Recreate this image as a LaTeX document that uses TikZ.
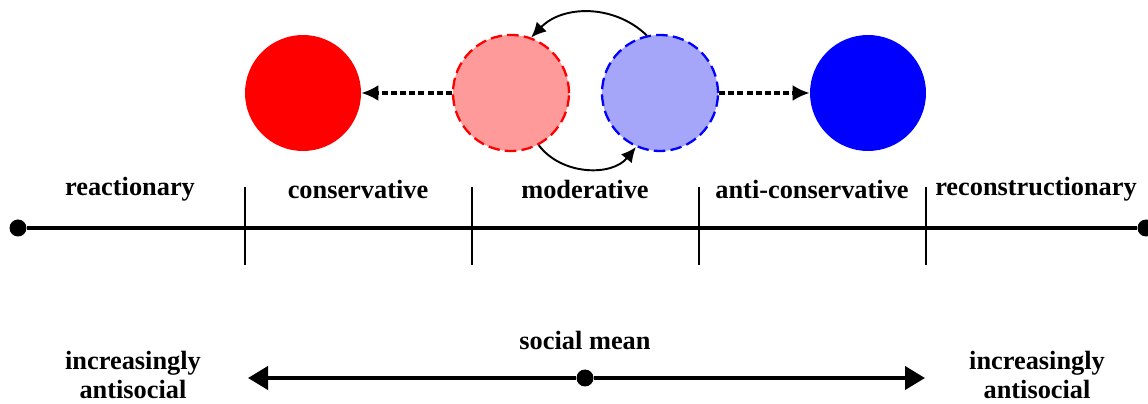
\documentclass[tikz,border=0pt]{standalone}
\usepackage{fontspec}
\setmainfont{Liberation Serif}
\usepackage{tikz}
\usetikzlibrary{positioning,arrows.meta}
\definecolor{polRed}{HTML}{FF0000}
\definecolor{polRedSoft}{HTML}{FF9A9A}
\definecolor{polBlue}{HTML}{0000FF}
\definecolor{polBlueSoft}{HTML}{A5A5FA}

\tikzset{
  zone/.style={font=\bfseries\fontsize{15}{16.5}\selectfont, align=center},
  camp/.style={circle, inner sep=0pt, minimum size=2.32cm},
  moved/.style={camp, line width=1.3pt, dash pattern=on 6.5pt off 3pt},
  dot/.style={circle, fill=black, inner sep=0pt, minimum size=0.34cm},
  drift/.style={line width=1.8pt, dash pattern=on 3.4pt off 1.8pt,
    -{Latex[length=0.34cm,width=0.32cm]}},
  turnover/.style={line width=1.1pt, -{Latex[length=0.3cm,width=0.28cm]}},
  spread/.style={line width=2.3pt, -{Triangle[length=0.4cm,width=0.46cm]}},
}

\begin{document}
\begin{tikzpicture}[x=0.02cm,y=-0.02cm]
  \useasboundingbox (0,0) rectangle (1148,404);

  % the axis
  \node[dot] (axL) at (18,228) {};
  \node[dot] (axR) at (1146,228) {};
  \draw[line width=2.3pt] (axL) -- (axR);
  \foreach \x in {245,472,699,926}
    \draw[line width=1.1pt] (\x,187) -- (\x,265);

  \node[zone] (reac) at (130,189) {reactionary};
  \node[zone] (cons) at (358,189) {conservative};
  \node[zone] (mod) at (585,189) {moderative};
  \node[zone] (acons) at (812,189) {anti-conservative};
  \node[zone] (recon) at (1036,189) {reconstructionary};

  % the camps
  \node[camp, fill=polRed] (red) at (303,93) {};
  \node[moved, draw=polRed, fill=polRedSoft] (redM) at (511,93) {};
  \node[moved, draw=polBlue, fill=polBlueSoft] (blueM) at (660,93) {};
  \node[camp, fill=polBlue] (blue) at (868,93) {};

  \draw[drift] (redM) -- (red);
  \draw[drift] (blueM) -- (blue);
  \draw[turnover] (blueM.103) to[bend right=45] (redM.70);
  \draw[turnover] (redM.-62) to[bend right=52] (blueM.-114);

  % social mean
  \node[zone] (meanlbl) at (585,340) {social mean};
  \node[dot] (mean) at (585,378) {};
  \coordinate (farL) at (248,378);
  \coordinate (farR) at (925,378);
  \draw[spread] (mean) -- (farL);
  \draw[spread] (mean) -- (farR);
  \node[zone] (antiL) at (133,375) {increasingly\\antisocial};
  \node[zone] (antiR) at (1037,375) {increasingly\\antisocial};
\end{tikzpicture}
\end{document}
